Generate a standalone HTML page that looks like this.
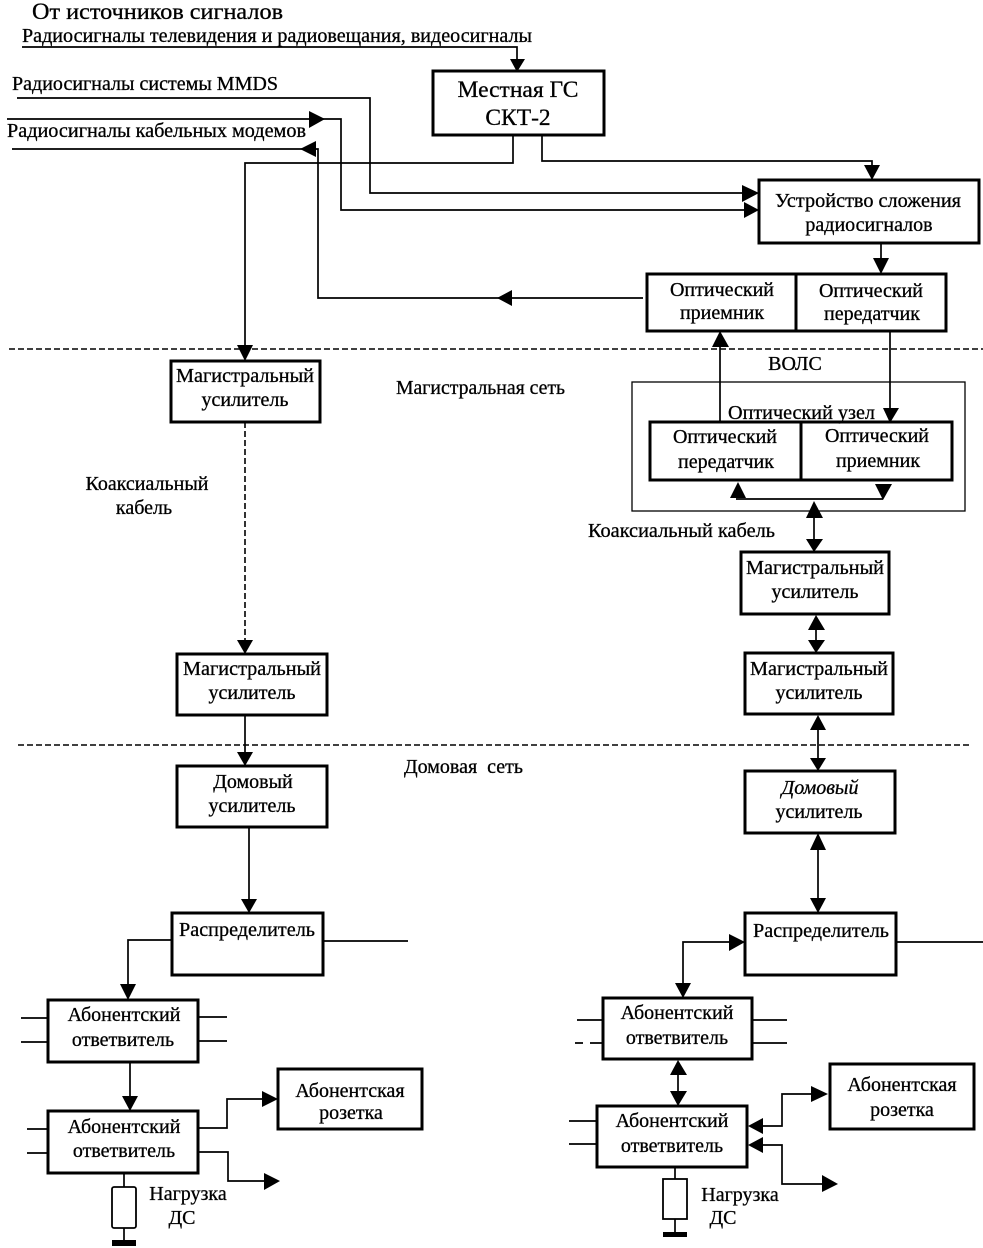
<!DOCTYPE html>
<html><head><meta charset="utf-8"><style>
html,body{margin:0;padding:0;background:#fff}
svg{display:block}
text{font-family:"Liberation Serif","Noto Serif CJK SC",serif;font-size:20px;fill:#000;stroke:#000;stroke-width:.3}
.m{text-anchor:middle}
.b{fill:#fff;stroke:#000;stroke-width:3}
.n{fill:none;stroke:#000;stroke-width:1.7}
.d{fill:none;stroke:#000;stroke-width:1.6;stroke-dasharray:6 3}
polygon{fill:#000}
</style></head><body>
<svg width="983" height="1248" viewBox="0 0 983 1248" xmlns="http://www.w3.org/2000/svg">
<!-- lines -->
<path class="n" d="M22 47H517V60M17 98H370V193H746M7 119H341V210H746M12 149H318V298H643M513 135V163H245V346M542 135V161H872V168M881 243V260M720 345V422M890 331V410M736 499H883M814 515V542M816 628V642M818 728V760M818 848V901M245 715V754M249 827V901M172 940H128V988M323 941H408M21 1018H48M21 1042H48M198 1017H227M198 1041H227M130 1062V1099M27 1129H48M27 1153H48M198 1128H227V1099H266M198 1152H228V1181H266M124 1173V1187M124 1228V1240M733 942H683V985M896 942H983M577 1020H603M575 1043H583M590 1043H603M752 1020H787M752 1043H787M678 1073V1093M569 1121H597M569 1144H597M760 1126H782V1094H816M760 1145H782V1184H824M675 1167V1179M675 1219V1232"/>
<path class="d" d="M9 349H983M18 745H970"/>
<path class="d" d="M245 422V642"/>
<rect x="632" y="382" width="333" height="129" fill="none" stroke="#000" stroke-width="1.3"/>
<!-- boxes -->
<rect class="b" x="433" y="71" width="171" height="64"/>
<rect class="b" x="759" y="180" width="220" height="63"/>
<rect class="b" x="647" y="274" width="149" height="57"/>
<rect class="b" x="796" y="274" width="150" height="57"/>
<rect class="b" x="650" y="422" width="151" height="58"/>
<rect class="b" x="801" y="422" width="151" height="58"/>
<rect class="b" x="171" y="361" width="149" height="61"/>
<rect class="b" x="177" y="654" width="150" height="61"/>
<rect class="b" x="177" y="766" width="150" height="61"/>
<rect class="b" x="172" y="913" width="151" height="62"/>
<rect class="b" x="48" y="1000" width="150" height="62"/>
<rect class="b" x="48" y="1111" width="150" height="62"/>
<rect class="b" x="278" y="1069" width="144" height="60"/>
<rect class="b" x="741" y="552" width="148" height="62"/>
<rect class="b" x="745" y="653" width="148" height="61"/>
<rect class="b" x="745" y="771" width="150" height="62"/>
<rect class="b" x="745" y="913" width="151" height="62"/>
<rect class="b" x="603" y="998" width="149" height="61"/>
<rect class="b" x="597" y="1106" width="150" height="61"/>
<rect class="b" x="830" y="1064" width="144" height="65"/>
<rect x="112" y="1187" width="24" height="41" rx="2" fill="#fff" stroke="#000" stroke-width="1.8"/>
<rect x="112" y="1240" width="24" height="6" fill="#000"/>
<rect x="663" y="1179" width="24" height="40" fill="#fff" stroke="#000" stroke-width="1.8"/>
<rect x="663" y="1232" width="24" height="5" fill="#000"/>
<!-- arrowheads -->
<polygon points="517,72 510,59 525,59"/>
<polygon points="325,119 309,111 309,128"/>
<polygon points="300,149 316,141 316,157"/>
<polygon points="759,193 742,185 742,202"/>
<polygon points="759,210 744,202 744,218"/>
<polygon points="872,180 864,165 880,165"/>
<polygon points="881,274 873,258 889,258"/>
<polygon points="497,298 512,290 512,306"/>
<polygon points="720,331 712,347 729,347"/>
<polygon points="890,423 883,408 899,408"/>
<polygon points="738,482 730,498 746,498"/>
<polygon points="883,500 875,484 892,484"/>
<polygon points="814,501 806,518 823,518"/>
<polygon points="814,552 806,539 823,539"/>
<polygon points="816,615 808,630 825,630"/>
<polygon points="816,653 808,640 825,640"/>
<polygon points="818,715 810,730 826,730"/>
<polygon points="818,771 810,758 826,758"/>
<polygon points="818,833 810,850 826,850"/>
<polygon points="818,913 810,898 826,898"/>
<polygon points="245,361 237,345 253,345"/>
<polygon points="245,654 237,640 253,640"/>
<polygon points="245,766 237,752 253,752"/>
<polygon points="249,913 241,899 257,899"/>
<polygon points="128,1000 120,984 136,984"/>
<polygon points="130,1111 122,1096 138,1096"/>
<polygon points="278,1099 262,1091 262,1107"/>
<polygon points="280,1181 264,1173 264,1190"/>
<polygon points="745,942 729,934 729,951"/>
<polygon points="683,998 675,983 691,983"/>
<polygon points="678,1060 670,1075 687,1075"/>
<polygon points="678,1106 670,1091 687,1091"/>
<polygon points="828,1094 811,1086 811,1102"/>
<polygon points="748,1126 763,1118 763,1134"/>
<polygon points="748,1145 763,1137 763,1153"/>
<polygon points="838,1184 822,1175 822,1192"/>
<!-- labels -->
<text x="32" y="19" textLength="251" lengthAdjust="spacingAndGlyphs" style="font-size:23px">От источников сигналов</text>
<text x="22" y="42" textLength="510" lengthAdjust="spacingAndGlyphs" style="font-size:19.5px">Радиосигналы телевидения и радиовещания, видеосигналы</text>
<text x="12" y="90" textLength="266" lengthAdjust="spacingAndGlyphs" style="font-size:19.5px">Радиосигналы системы MMDS</text>
<text x="7" y="137" textLength="299" lengthAdjust="spacingAndGlyphs" style="font-size:19.5px">Радиосигналы кабельных модемов</text>
<text class="m" x="518" y="97" style="font-size:23.5px">Местная ГС</text>
<text class="m" x="518" y="125" style="font-size:23.5px">СКТ-2</text>
<text class="m" x="868" y="207" textLength="186" lengthAdjust="spacingAndGlyphs">Устройство сложения</text>
<text class="m" x="869" y="231">радиосигналов</text>
<text class="m" x="722" y="296">Оптический</text>
<text class="m" x="722" y="319">приемник</text>
<text class="m" x="871" y="297">Оптический</text>
<text class="m" x="872" y="320">передатчик</text>
<text class="m" x="795" y="370">ВОЛС</text>
<text x="396" y="394" textLength="169" lengthAdjust="spacingAndGlyphs">Магистральная сеть</text>
<text x="728" y="419" textLength="147" lengthAdjust="spacingAndGlyphs">Оптический узел</text>
<text class="m" x="725" y="443">Оптический</text>
<text class="m" x="726" y="468">передатчик</text>
<text class="m" x="877" y="442">Оптический</text>
<text class="m" x="878" y="467">приемник</text>
<text x="588" y="537" textLength="187" lengthAdjust="spacingAndGlyphs">Коаксиальный кабель</text>
<text class="m" x="245" y="382" textLength="138" lengthAdjust="spacingAndGlyphs">Магистральный</text>
<text class="m" x="245" y="406">усилитель</text>
<text class="m" x="147" y="490">Коаксиальный</text>
<text class="m" x="144" y="514">кабель</text>
<text class="m" x="252" y="675" textLength="138" lengthAdjust="spacingAndGlyphs">Магистральный</text>
<text class="m" x="252" y="699">усилитель</text>
<text class="m" x="815" y="574" textLength="138" lengthAdjust="spacingAndGlyphs">Магистральный</text>
<text class="m" x="815" y="598">усилитель</text>
<text class="m" x="819" y="675" textLength="138" lengthAdjust="spacingAndGlyphs">Магистральный</text>
<text class="m" x="819" y="699">усилитель</text>
<text x="404" y="773" textLength="119" lengthAdjust="spacingAndGlyphs" xml:space="preserve">Домовая  сеть</text>
<text class="m" x="253" y="788">Домовый</text>
<text class="m" x="252" y="812">усилитель</text>
<text class="m" x="820" y="794" style="font-style:italic">Домовый</text>
<text class="m" x="819" y="818">усилитель</text>
<text class="m" x="247" y="936" textLength="136" lengthAdjust="spacingAndGlyphs">Распределитель</text>
<text class="m" x="821" y="937" textLength="136" lengthAdjust="spacingAndGlyphs">Распределитель</text>
<text class="m" x="124" y="1021">Абонентский</text>
<text class="m" x="123" y="1046">ответвитель</text>
<text class="m" x="124" y="1133">Абонентский</text>
<text class="m" x="124" y="1157">ответвитель</text>
<text class="m" x="350" y="1097">Абонентская</text>
<text class="m" x="351" y="1119">розетка</text>
<text class="m" x="188" y="1200">Нагрузка</text>
<text class="m" x="182" y="1224">ДС</text>
<text class="m" x="677" y="1019">Абонентский</text>
<text class="m" x="677" y="1044">ответвитель</text>
<text class="m" x="672" y="1127">Абонентский</text>
<text class="m" x="672" y="1152">ответвитель</text>
<text class="m" x="902" y="1091">Абонентская</text>
<text class="m" x="902" y="1116">розетка</text>
<text class="m" x="740" y="1201">Нагрузка</text>
<text class="m" x="723" y="1224">ДС</text>
</svg>
</body></html>
